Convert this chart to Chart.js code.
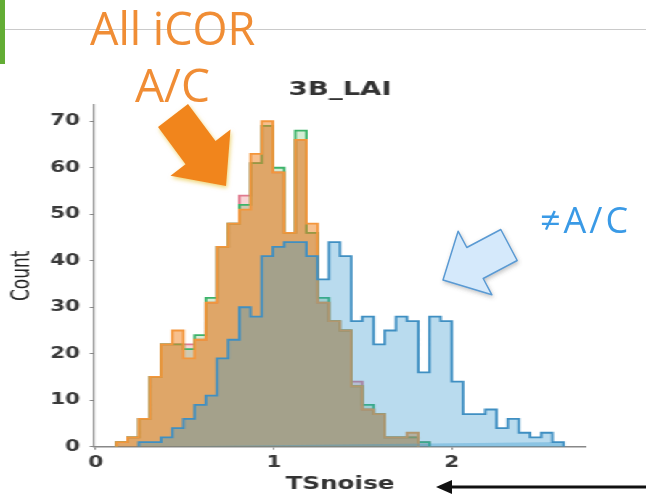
<!DOCTYPE html>
<html>
<head>
<meta charset="utf-8">
<script src="https://cdn.jsdelivr.net/npm/chart.js@4.4.1/dist/chart.umd.min.js"></script>
<style>
  html, body { margin: 0; padding: 0; background: #fff; }
  #page { position: relative; width: 646px; height: 495px; overflow: hidden; background: #fff; filter: blur(0.4px); }
  /* the pasted plot is stretched sideways in the slide, so stretch ours too */
  #plotWrap { position: absolute; left: 0; top: 0; width: 445px; height: 495px; transform: scaleX(1.4517); transform-origin: 0 0; }
  #overlay { position: absolute; left: 0; top: 0; pointer-events: none; }
</style>
</head>
<body>
<div id="page">
  <div id="plotWrap"><canvas id="histChart"></canvas></div>
  <svg id="overlay" width="646" height="495" font-family="Open Sans, sans-serif">
    <defs>
      <filter id="glowOrange" x="-40%" y="-40%" width="180%" height="180%">
        <feDropShadow dx="1" dy="2" stdDeviation="2" flood-color="#e0b000" flood-opacity="0.55"/>
      </filter>
      <filter id="shadowBlue" x="-40%" y="-40%" width="180%" height="180%">
        <feDropShadow dx="1" dy="2" stdDeviation="2" flood-color="#555" flood-opacity="0.35"/>
      </filter>
    </defs>
    <rect x="0" y="0" width="5" height="64" fill="#63ad35"/>
    <line x1="5" y1="29.5" x2="646" y2="29.5" stroke="#cacaca" stroke-width="1"/>
    <text x="90" y="45" font-size="45" fill="#f08d35">All iCOR</text>
    <text x="135" y="102" font-size="46" fill="#f08d35">A/C</text>
    <polygon points="158,127 188,104 215.5,141 230.5,129.4 226,186 170.5,175.8 185.5,164.2" fill="#f1851f" filter="url(#glowOrange)"/>
    <text x="540" y="233" font-size="36" letter-spacing="3" fill="#3a9ae6">≠A/C</text>
    <polygon points="500.8,229.5 517.2,260.5 483.2,278.5 491.9,294.8 443,280 458.1,231.2 466.8,247.5" fill="#d5e9fb" stroke="#5a9ad3" stroke-width="1.5" stroke-linejoin="round" filter="url(#shadowBlue)"/>
    <line x1="646" y1="487" x2="450" y2="487" stroke="#111" stroke-width="3"/>
    <polygon points="436,487 452,480 452,494" fill="#111"/>
  </svg>
</div>
<script>
// histogram bins (TSnoise), same grid for every group
const binStart = 0.116;
const binWidth = 0.0628;

// counts per bin
const notAC = [0, 0, 1, 1, 2, 4, 6, 9, 11, 19, 23, 30, 28, 41, 43, 44, 44, 41, 36, 44,
               41, 27, 28, 22, 25, 28, 27, 16, 28, 27, 14, 7, 7, 8, 4, 6, 3, 2, 3, 1];
const icorOrange = [1, 2, 6, 15, 22, 25, 19, 23, 31, 43, 48, 51, 63, 70, 59, 46, 66, 48, 31, 27,
                    25, 13, 8, 7, 2, 2, 3, 0];
const icorGreen = [1, 2, 6, 15, 22, 22, 21, 24, 32, 43, 48, 52, 61, 69, 60, 46, 68, 46, 32, 27,
                   25, 13, 9, 7, 2, 2, 2, 1];
const icorPink = [1, 2, 6, 15, 22, 22, 22, 23, 31, 43, 48, 54, 61, 69, 59, 46, 66, 46, 31, 27,
                  25, 14, 8, 7, 2, 2, 2, 1];

const chartTitle = "3B_LAI";
const xLabel = "TSnoise";
const yLabel = "Count";

// turn bin counts into a step outline (x = bin edges)
function toSteps(counts) {
    const first = counts.findIndex((c) => c > 0);
    let last = counts.length - 1;
    while (last > 0 && counts[last] === 0) last--;
    const pts = [{ x: binStart + first * binWidth, y: 0 }];
    for (let i = first; i <= last; i++) {
        const left = binStart + i * binWidth;
        pts.push({ x: left, y: counts[i] });
        pts.push({ x: left + binWidth, y: counts[i] });
    }
    pts.push({ x: binStart + (last + 1) * binWidth, y: 0 });
    return pts;
}

function stepSet(counts, line, fill) {
    return {
        data: toSteps(counts),
        borderColor: line,
        backgroundColor: fill,
        borderWidth: 1.8,
        pointRadius: 0,
        tension: 0,
        fill: "origin",
    };
}

Chart.defaults.font.family = "DejaVu Sans";
Chart.defaults.color = "#3a3a3a";

const ctx = document.getElementById("histChart").getContext("2d");
new Chart(ctx, {
    type: "line",
    data: {
        // first one is painted last (on top)
        datasets: [
            stepSet(notAC, "#3f8fc2", "rgba(52, 152, 205, 0.345)"),
            stepSet(icorOrange, "#f3963c", "rgba(240, 130, 30, 0.5)"),
            stepSet(icorGreen, "#3cb36a", "rgba(44, 160, 44, 0.2)"),
            stepSet(icorPink, "#e07a8e", "rgba(214, 39, 40, 0.2)"),
        ],
    },
    options: {
        responsive: true,
        maintainAspectRatio: false,
        animation: false,
        layout: { padding: { left: 0, right: 41.3, top: 0, bottom: 0 } },
        plugins: {
            legend: { display: false },
            tooltip: { enabled: false },
            title: {
                display: true,
                text: chartTitle,
                fullSize: false,
                font: { size: 19, weight: "bold" },
                color: "#333",
                padding: { top: 78.5, bottom: 3.7 },
            },
        },
        scales: {
            x: {
                type: "linear",
                min: -0.01,
                max: 2.754,
                ticks: { stepSize: 1, includeBounds: false, maxRotation: 0, padding: 4, font: { size: 15, weight: "bold" }, color: "#3a3a3a" },
                grid: { drawOnChartArea: false, tickLength: 3, color: "#888" },
                border: { color: "#888", width: 1.5 },
                title: { display: true, text: xLabel, font: { size: 17, weight: "bold" }, color: "#333", padding: { top: 0, bottom: 0 } },
                afterFit: (scale) => { scale.height = 48.3; },
            },
            y: {
                min: 0,
                max: 73.5,
                ticks: { stepSize: 10, includeBounds: false, padding: 6.5, font: { size: 15, weight: "bold" }, color: "#3a3a3a" },
                grid: { drawOnChartArea: false, tickLength: 3, color: "#888" },
                border: { color: "#888", width: 1.2 },
                title: { display: true, text: yLabel, font: { size: 17 }, color: "#222", padding: { top: 5, bottom: 0 } },
                afterFit: (scale) => { scale.width = 64.75; },
            },
        },
    },
});
</script>
</body>
</html>
